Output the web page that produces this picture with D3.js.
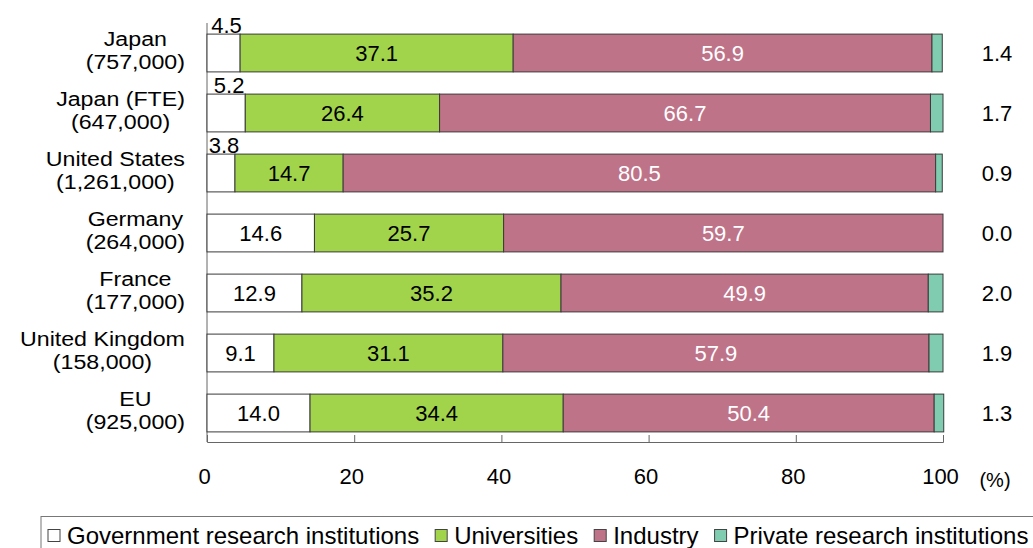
<!DOCTYPE html>
<html>
<head>
<meta charset="utf-8">
<script src="https://cdn.jsdelivr.net/npm/d3@7"></script>
<style>
  body { margin: 0; background: #fff; }
  text { font-family: "Liberation Sans", Arial, sans-serif; fill: #000; }
</style>
</head>
<body>
<div id="chart"></div>
<script>
// categories (two-line labels)
var countries = ["Japan", "Japan (FTE)", "United States", "Germany", "France", "United Kingdom", "EU"];
var researchers = ["(757,000)", "(647,000)", "(1,261,000)", "(264,000)", "(177,000)", "(158,000)", "(925,000)"];

// series values (%)
var government = [4.5, 5.2, 3.8, 14.6, 12.9, 9.1, 14.0];
var universities = [37.1, 26.4, 14.7, 25.7, 35.2, 31.1, 34.4];
var industry = [56.9, 66.7, 80.5, 59.7, 49.9, 57.9, 50.4];
var privateInst = [1.4, 1.7, 0.9, 0.0, 2.0, 1.9, 1.3];

var seriesNames = ["Government research institutions", "Universities", "Industry", "Private research institutions"];
var xTicks = [0, 20, 40, 60, 80, 100];

var chart = {};

chart.init = function() {
    var W = 1033, H = 548;
    var colors = ["#ffffff", "#a1d44b", "#be7389", "#80ccb0"];
    var labelColors = ["#000", "#000", "#fff", "#000"];

    var svg = d3.select("#chart").append("svg")
        .attr("width", W)
        .attr("height", H);

    var x = d3.scaleLinear().domain([0, 100]).range([207, 943]);
    var y = d3.scaleBand().domain(countries).range([23, 443])
        .paddingInner(0.37).paddingOuter(0.185);

    // build stacked rows
    var rows = countries.map(function(c, i) {
        return { country: c, government: government[i], universities: universities[i],
                 industry: industry[i], privateInst: privateInst[i] };
    });
    var keys = ["government", "universities", "industry", "privateInst"];
    var stacked = d3.stack().keys(keys)(rows);

    // y axis line
    svg.append("line")
        .attr("x1", x(0)).attr("x2", x(0))
        .attr("y1", 23).attr("y2", 442)
        .attr("stroke", "#666").attr("stroke-width", 1);

    // bars
    var layer = svg.selectAll("g.layer")
        .data(stacked)
        .enter().append("g")
        .attr("class", "layer")
        .attr("fill", function(d, i) { return colors[i]; });

    layer.selectAll("rect")
        .data(function(d) { return d; })
        .enter().append("rect")
        .attr("x", function(d) { return x(d[0]); })
        .attr("y", function(d) { return y(d.data.country); })
        .attr("width", function(d) { return x(d[1]) - x(d[0]); })
        .attr("height", y.bandwidth())
        .attr("stroke", "#3a3a3a")
        .attr("stroke-width", 1)
        .style("display", function(d) { return d[1] - d[0] > 0 ? null : "none"; });

    // value labels inside bars (first three series)
    stacked.slice(0, 3).forEach(function(s, si) {
        svg.append("g").selectAll("text")
            .data(s)
            .enter().append("text")
            .attr("x", function(d) {
                var v = d[1] - d[0];
                return v < 6 ? x(d[0] + v / 2) + 3 : x(d[0] + v / 2);
            })
            .attr("y", function(d) {
                var v = d[1] - d[0];
                return v < 6 ? y(d.data.country) - 1 : y(d.data.country) + y.bandwidth() / 2;
            })
            .attr("dy", function(d) { return d[1] - d[0] < 6 ? "0" : "0.35em"; })
            .attr("text-anchor", "middle")
            .style("font-size", "22px")
            .style("fill", function(d) { return d[1] - d[0] < 6 ? "#000" : labelColors[si]; })
            .text(function(d) { return (d[1] - d[0]).toFixed(1); });
    });

    // private research institution values at the right
    svg.append("g").selectAll("text")
        .data(rows)
        .enter().append("text")
        .attr("x", 997)
        .attr("y", function(d) { return y(d.country) + y.bandwidth() / 2; })
        .attr("dy", "0.35em")
        .attr("text-anchor", "middle")
        .style("font-size", "22px")
        .text(function(d) { return d.privateInst.toFixed(1); });

    // category labels: block right aligned, lines centered in block
    // (the original's labels are a bit wide, so stretch them horizontally)
    var sx = 1.16;
    var catG = svg.append("g");
    countries.forEach(function(c, i) {
        var cy = y(c) + y.bandwidth() / 2;
        var t1 = catG.append("text").style("font-size", "20px")
            .attr("text-anchor", "middle").text(c);
        var t2 = catG.append("text").style("font-size", "20px")
            .attr("text-anchor", "middle").text(researchers[i]);
        var w = sx * Math.max(t1.node().getComputedTextLength(), t2.node().getComputedTextLength());
        var cx = 185 - w / 2;
        t1.attr("transform", "translate(" + cx + "," + (cy - 7.5) + ") scale(" + sx + ",1)");
        t2.attr("transform", "translate(" + cx + "," + (cy + 16) + ") scale(" + sx + ",1)");
    });

    // x axis
    var axis = svg.append("g")
        .attr("transform", "translate(0,442)")
        .call(d3.axisBottom(x).tickValues(xTicks).tickSize(-7).tickPadding(0).tickFormat(d3.format("d")));
    axis.select(".domain").attr("stroke", "#666");
    axis.selectAll(".tick line").attr("stroke", "#666");
    axis.selectAll(".tick text")
        .attr("y", 42)
        .attr("dy", 0)
        .attr("dx", -3)
        .style("font-size", "22px")
        .style("font-family", "'Liberation Sans', Arial, sans-serif")
        .attr("fill", "#000");

    svg.append("text")
        .attr("x", 995).attr("y", 487)
        .attr("text-anchor", "middle")
        .style("font-size", "20px")
        .text("(%)");

    // legend
    svg.append("rect")
        .attr("x", 41).attr("y", 516.5)
        .attr("width", 1010).attr("height", 40)
        .attr("fill", "none").attr("stroke", "#777");

    var lx = 48;
    seriesNames.forEach(function(name, i) {
        svg.append("rect")
            .attr("x", lx).attr("y", 529.5)
            .attr("width", 12).attr("height", 12)
            .attr("fill", colors[i])
            .attr("stroke", "#444");
        var t = svg.append("text")
            .attr("x", lx + 19).attr("y", 544)
            .style("font-size", "24px")
            .text(name);
        lx = lx + 19 + t.node().getComputedTextLength() + 16;
    });
};

chart.init();
</script>
</body>
</html>
